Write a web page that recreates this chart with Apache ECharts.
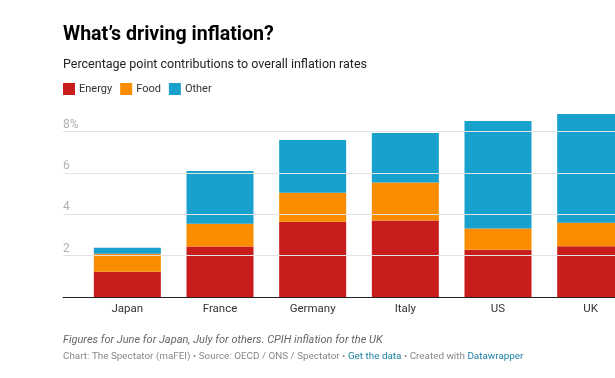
<!DOCTYPE html>
<html>
<head>
<meta charset="utf-8">
<script src="https://cdn.jsdelivr.net/npm/echarts@6/dist/echarts.min.js"></script>
<style>
html,body{margin:0;padding:0;background:#fff;}
#chart{width:615px;height:378px;}
</style>
</head>
<body>
<div id="chart"></div>
<script>
var categories = ['Japan', 'France', 'Germany', 'Italy', 'US', 'UK'];
var energy = [1.22, 2.44, 3.64, 3.70, 2.29, 2.45];
var food   = [0.87, 1.10, 1.41, 1.84, 1.02, 1.14];
var other  = [0.29, 2.56, 2.55, 2.40, 5.21, 5.27];
var yTicks = [2, 4, 6, 8];
var seriesNames = ['Energy', 'Food', 'Other'];
var colors = ['#c71e1d', '#fa8c00', '#18a1cd'];

var FONT = 'Roboto';

var chart = echarts.init(document.getElementById('chart'), null, {renderer: 'canvas'});
chart.setOption({
  animation: false,
  textStyle: {fontFamily: FONT},
  title: [
    {text: 'What’s driving inflation?', left: 63, top: 25, padding: 0,
     textStyle: {fontFamily: FONT, fontWeight: 'bold', fontSize: 19.6, color: '#000'}},
    {text: 'Percentage point contributions to overall inflation rates', left: 63, top: 58, padding: 0,
     textStyle: {fontFamily: FONT, fontWeight: 'normal', fontSize: 12.5, color: '#222'}},
    {text: 'Figures for June for Japan, July for others. CPIH inflation for the UK', left: 63, top: 335, padding: 0,
     textStyle: {fontFamily: FONT, fontStyle: 'italic', fontWeight: 'normal', fontSize: 11, color: '#666'}},
    {text: 'Chart: The Spectator (maFEI) • Source: OECD / ONS / Spectator • {l|Get the data} • Created with {l|Datawrapper}',
     left: 63, top: 352, padding: 0,
     textStyle: {fontFamily: FONT, fontWeight: 'normal', fontSize: 9.9, color: '#888',
       rich: {l: {fontFamily: FONT, fontSize: 9.9, color: '#1d81a2'}}}}
  ],
  legend: {
    left: 63, top: 83, padding: 0, icon: 'rect', itemWidth: 12, itemHeight: 12, itemGap: 8,
    textStyle: {fontFamily: FONT, fontSize: 11, color: '#333', padding: [0, 0, 0, -1]},
    data: seriesNames
  },
  grid: [
    {left: 81, width: 556, top: 111, bottom: 81, containLabel: false, outerBoundsMode: 'none'},
    {left: 63, right: 0, top: 111, bottom: 81, containLabel: false, outerBoundsMode: 'none'}
  ],
  xAxis: [
    {
      type: 'category', gridIndex: 0, data: categories,
      axisLine: {show: false}, axisTick: {show: false}, splitLine: {show: false},
      axisLabel: {margin: 6, fontFamily: FONT, fontSize: 11.5, color: '#333'}
    },
    {
      type: 'value', gridIndex: 1, min: 0, max: 1,
      axisLine: {show: true, onZero: true, lineStyle: {color: '#222', width: 1}},
      axisTick: {show: false}, splitLine: {show: false}, axisLabel: {show: false}
    }
  ],
  yAxis: [
    {
      type: 'value', gridIndex: 0, min: 0, max: 9,
      axisLine: {show: false}, axisTick: {show: false},
      splitLine: {show: false}, axisLabel: {show: false}
    },
    {
      type: 'value', gridIndex: 1, min: 0, max: 9, interval: 1,
      axisLine: {show: false}, axisTick: {show: false},
      splitLine: {show: false},
      axisLabel: {
        inside: true, margin: 0, verticalAlign: 'bottom', padding: [0, 0, 1, 0],
        customValues: yTicks,
        fontFamily: FONT, fontSize: 12, color: '#b0b0b0',
        formatter: function (v) { return v === 8 ? v + '%' : String(v); }
      }
    }
  ],
  series: [
    {name: seriesNames[0], type: 'bar', stack: 'a', barWidth: 67, xAxisIndex: 0, yAxisIndex: 0, data: energy, itemStyle: {color: colors[0]}, z: 3},
    {name: seriesNames[1], type: 'bar', stack: 'a', barWidth: 67, xAxisIndex: 0, yAxisIndex: 0, data: food, itemStyle: {color: colors[1]}, z: 3},
    {name: seriesNames[2], type: 'bar', stack: 'a', barWidth: 67, xAxisIndex: 0, yAxisIndex: 0, data: other, itemStyle: {color: colors[2]}, z: 3},
    {
      type: 'line', xAxisIndex: 1, yAxisIndex: 1, data: [], silent: true, z: 1,
      markLine: {
        silent: true, symbol: 'none', label: {show: false},
        lineStyle: {color: '#e2e2e2', width: 1, type: 'solid'},
        data: yTicks.map(function (v) { return {yAxis: v}; })
      }
    }
  ]
});
</script>
</body>
</html>
